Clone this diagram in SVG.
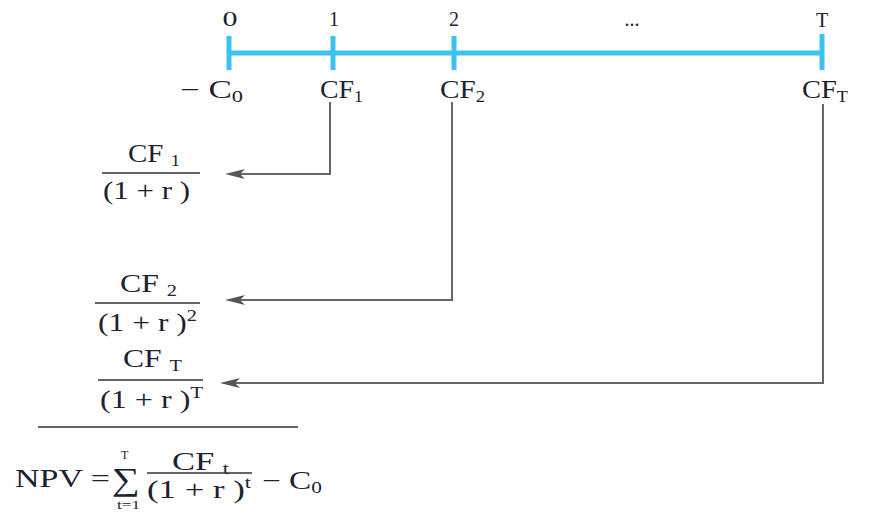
<svg xmlns="http://www.w3.org/2000/svg" width="878" height="527" viewBox="0 0 878 527" font-family="'Liberation Serif', 'DejaVu Serif', serif">
<style>
text{font-family:"Liberation Serif","DejaVu Serif",serif;fill:#1c2230}
.tl{stroke:#3cc2ee;stroke-width:5;fill:none}
.lab{font-size:20px;text-anchor:middle}
.cf{font-size:25px}
.sub{font-size:16px}
.conn{stroke:#666;stroke-width:2;fill:none}
.head{fill:#555}
.bar{stroke:#333;stroke-width:1.3}
</style>
<rect width="878" height="527" fill="#fff"/>
<g id="timeline">
<line class="tl" x1="229" y1="53" x2="822" y2="53"/>
<line class="tl" x1="229" y1="36" x2="229" y2="70"/>
<line class="tl" x1="333" y1="36" x2="333" y2="70"/>
<line class="tl" x1="454" y1="36" x2="454" y2="70"/>
<line class="tl" x1="822" y1="34" x2="822" y2="70"/>
<text class="lab" x="230" y="26" textLength="15" lengthAdjust="spacingAndGlyphs">0</text>
<text class="lab" x="334" y="26">1</text>
<text class="lab" x="454" y="26">2</text>
<text class="lab" x="632" y="26">...</text>
<text class="lab" x="822" y="27">T</text>
</g>
<g id="c0"><text class="cf" x="180" y="98" textLength="63" lengthAdjust="spacingAndGlyphs">− C<tspan class="sub" dy="4">0</tspan></text></g>
<g id="cf1"><text class="cf" x="320" y="98" textLength="43" lengthAdjust="spacingAndGlyphs">CF<tspan class="sub" dy="4">1</tspan></text></g>
<g id="cf2"><text class="cf" x="440" y="98" textLength="45" lengthAdjust="spacingAndGlyphs">CF<tspan class="sub" dy="4">2</tspan></text></g>
<g id="cfT"><text class="cf" x="802" y="98" textLength="46" lengthAdjust="spacingAndGlyphs">CF<tspan class="sub" dy="4">T</tspan></text></g>
<g id="connectors">
<polyline class="conn" points="330,102 330,174 240,174"/>
<path class="head" d="M225,174 L245,169 L240,174 L245,179 Z"/>
<polyline class="conn" points="452,102 452,300 240,300"/>
<path class="head" d="M225,300 L245,295 L240,300 L245,305 Z"/>
<polyline class="conn" points="823,104 823,383 235,383"/>
<path class="head" d="M220,383 L240,378 L235,383 L240,388 Z"/>
</g>
<g id="frac1">
<text class="cf" x="128" y="162" textLength="52" lengthAdjust="spacingAndGlyphs">CF <tspan class="sub" dy="4">1</tspan></text>
<line class="bar" x1="102" y1="173" x2="200" y2="173"/>
<text class="cf" x="103" y="199" textLength="87" lengthAdjust="spacingAndGlyphs">(1 + r )</text>
</g>
<g id="frac2">
<text class="cf" x="120" y="292" textLength="57" lengthAdjust="spacingAndGlyphs">CF <tspan class="sub" dy="4">2</tspan></text>
<line class="bar" x1="95" y1="303" x2="200" y2="303"/>
<text class="cf" x="98" y="331" textLength="99" lengthAdjust="spacingAndGlyphs">(1 + r )<tspan class="sub" dy="-10">2</tspan></text>
</g>
<g id="fracT">
<text class="cf" x="123" y="367" textLength="59" lengthAdjust="spacingAndGlyphs">CF <tspan class="sub" dy="4">T</tspan></text>
<line class="bar" x1="98" y1="380" x2="203" y2="380"/>
<text class="cf" x="100" y="408" textLength="103" lengthAdjust="spacingAndGlyphs">(1 + r )<tspan class="sub" dy="-10">T</tspan></text>
</g>
<g id="sumline"><line class="bar" x1="38" y1="427" x2="298" y2="427"/></g>
<g id="npv">
<text class="cf" x="15" y="487" textLength="95" lengthAdjust="spacingAndGlyphs">NPV =</text>
<text x="112" y="490" style="font-size:32px" textLength="28" lengthAdjust="spacingAndGlyphs">∑</text>
<text x="121" y="459" style="font-size:12px">T</text>
<text x="117" y="509" style="font-size:12px" textLength="23" lengthAdjust="spacingAndGlyphs">t=1</text>
<text class="cf" x="172" y="470" textLength="57" lengthAdjust="spacingAndGlyphs">CF <tspan class="sub" dy="4">t</tspan></text>
<line class="bar" x1="147" y1="473" x2="252" y2="473"/>
<text class="cf" x="147" y="498" textLength="104" lengthAdjust="spacingAndGlyphs">(1 + r )<tspan class="sub" dy="-10">t</tspan></text>
<text class="cf" x="262" y="489" textLength="60" lengthAdjust="spacingAndGlyphs">− C<tspan class="sub" dy="4">0</tspan></text>
</g>
</svg>
